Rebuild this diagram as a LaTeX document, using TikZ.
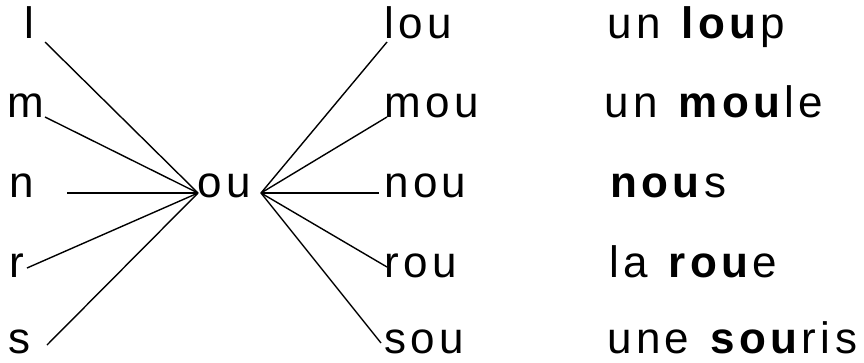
\documentclass[tikz,border=0pt]{standalone}
\usepackage{fontspec}
\setmainfont{Liberation Sans}[LetterSpace=10]
\tikzset{
  syll/.style={anchor=base west,inner sep=0pt,font=\fontsize{44}{52}\selectfont},
  link/.style={line width=1.4pt}
}
\begin{document}
\begin{tikzpicture}[x=1pt,y=-1pt]
\useasboundingbox (0,0) rectangle (864,362);

% consonnes
\node[syll] (l) at (24,38) {l};
\node[syll] (m) at (7,117) {m};
\node[syll] (n) at (9,197) {n};
\node[syll] (r) at (9,277) {r};
\node[syll] (s) at (8,353) {s};

% voyelle
\node[syll] (ou) at (197,197) {ou};

% syllabes
\node[syll] (lou) at (384,38) {lou};
\node[syll] (mou) at (384,117) {mou};
\node[syll] (nou) at (384,197) {nou};
\node[syll] (rou) at (384,277) {rou};
\node[syll] (sou) at (384,353) {sou};

% mots
\node[syll] (loup) at (607,38) {un \textbf{lou}p};
\node[syll] (moule) at (604,117) {un \textbf{mou}le};
\node[syll] (nous) at (610,197) {\textbf{nou}s};
\node[syll] (roue) at (609,277) {la \textbf{rou}e};
\node[syll] (souris) at (607,353) {une \textbf{sou}ris};

% bouts des traits
\coordinate (ou-in) at (198,193);
\coordinate (ou-out) at (261,193);
\coordinate (l-end) at (45,42);
\coordinate (m-end) at (45,117);
\coordinate (n-end) at (67,193);
\coordinate (r-end) at (27,268);
\coordinate (s-end) at (47,345);
\coordinate (lou-end) at (387,42);
\coordinate (mou-end) at (387,117);
\coordinate (nou-end) at (379,193);
\coordinate (rou-end) at (387,267);
\coordinate (sou-end) at (381,343);

\foreach \c in {l,m,n,r,s}
  \draw[link] (\c-end) -- (ou-in);
\foreach \c in {lou,mou,nou,rou,sou}
  \draw[link] (ou-out) -- (\c-end);

\end{tikzpicture}
\end{document}
